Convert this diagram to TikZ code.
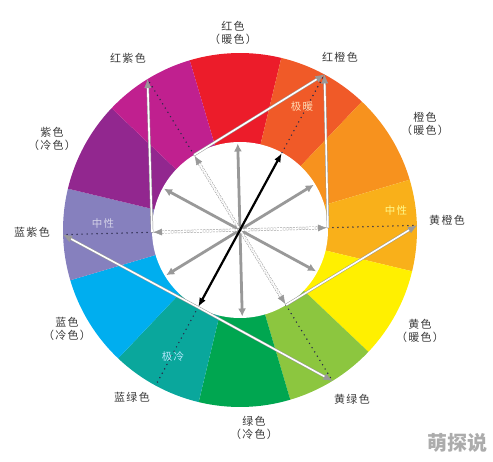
\documentclass[tikz,border=0pt]{standalone}
\usepackage{fontspec}
\newfontfamily\cjk[LetterSpace=12]{Noto Sans CJK SC}
\newfontfamily\cjkmark{Noto Sans CJK SC}
\usetikzlibrary{arrows.meta}

\definecolor{cR}{HTML}{EC1C2A}
\definecolor{cRO}{HTML}{F05A28}
\definecolor{cO}{HTML}{F7921E}
\definecolor{cYO}{HTML}{F9B01A}
\definecolor{cY}{HTML}{FFF000}
\definecolor{cYG}{HTML}{8CC63F}
\definecolor{cG}{HTML}{00A650}
\definecolor{cBG}{HTML}{0AA79C}
\definecolor{cB}{HTML}{00AEEF}
\definecolor{cBV}{HTML}{8680BE}
\definecolor{cV}{HTML}{92278F}
\definecolor{cRV}{HTML}{C0208F}
\definecolor{labelgray}{HTML}{3A3A3A}
\definecolor{dotblue}{HTML}{2A2A4A}

\tikzset{
  ringlabel/.style={font=\cjk\fontsize{11}{12.5}\selectfont, text=labelgray, align=center, inner sep=0pt},
  inlabel/.style={font=\cjk\fontsize{10.5}{12}\selectfont, inner sep=0pt},
  spoke/.style={gray!80, line width=2.8pt, shorten <=1.5pt, shorten >=1.5pt,
    {Latex[length=8pt,width=8pt]}-{Latex[length=8pt,width=8pt]}},
  ghost/.style={draw=gray!80, double=white, double distance=2pt, line width=0.5pt,
    dash pattern=on 2pt off 1.2pt, shorten <=1pt, shorten >=1pt,
    {Latex[length=9pt,width=7pt]}-{Latex[length=9pt,width=7pt]}},
  tangent/.style={draw=gray!80, double=white, double distance=1.6pt, line width=0.5pt,
    -{Latex[length=9pt,width=7pt]}},
  radial/.style={dotblue, line width=1.6pt, line cap=round, dash pattern=on 0pt off 5pt}
}

\begin{document}
\begin{tikzpicture}[x=1pt, y=1pt]
\useasboundingbox (-240,-232) rectangle (253,230);
\def\rot{1.5}

% colour ring
\foreach \a/\c in {90/cR, 60/cRO, 30/cO, 0/cYO, -30/cY, -60/cYG, -90/cG, -120/cBG, -150/cB, 180/cBV, 150/cV, 120/cRV}
  \fill[\c] (0,0) -- (\a-15+\rot:177) arc (\a-15+\rot:\a+15+\rot:177) -- cycle;
\fill[white] (0,0) circle (88);

% points on the inner and outer circle
\foreach \a in {0,30,...,330} {
  \coordinate (in\a) at (\a+\rot:88);
  \coordinate (out\a) at (\a+\rot:177);
}

% dotted radii
\foreach \a in {0,60,...,300}
  \draw[radial] (in\a) -- (out\a);

% arrows inside
\draw[spoke] (in90) -- (in270);
\draw[spoke] (in30) -- (in210);
\draw[spoke] (in150) -- (in330);
\draw[ghost] (in120) -- (in300);
\draw[ghost] (in180) -- (in0);
\draw[black, line width=2.2pt, shorten <=0.5pt, shorten >=0.5pt,
  {Latex[length=9pt,width=7pt]}-{Latex[length=9pt,width=7pt]}] (in240) -- (in60);

% tangent arrows in the ring
\draw[tangent] (in180) -- (out120);
\draw[tangent] (in120) -- (out60);
\draw[tangent] (in0) -- (out60);
\draw[tangent] (in300) -- (out0);
\draw[tangent] (in240) -- (out180);
\draw[tangent] (in240) -- (out300);

% labels in the ring
\node[inlabel, text=orange!30] (hot) at (62,123) {极暖};
\node[inlabel, text=cBV!35] (neutralL) at (-137,6) {中性};
\node[inlabel, text=yellow!45] (neutralR) at (156,19) {中性};
\node[inlabel, text=cyan!30] (cold) at (-67,-127) {极冷};

% labels round the ring
\node[ringlabel] (red) at (-7,197) {红色\\（暖色）};
\node[ringlabel] (redorange) at (100,173) {红橙色};
\node[ringlabel] (orange) at (185,106) {橙色\\（暖色）};
\node[ringlabel] (yelloworange) at (207,10) {黄橙色};
\node[ringlabel] (yellow) at (180,-101) {黄色\\（暖色）};
\node[ringlabel] (yellowgreen) at (112,-169) {黄绿色};
\node[ringlabel] (green) at (14,-198) {绿色\\（冷色）};
\node[ringlabel] (bluegreen) at (-108,-167) {蓝绿色};
\node[ringlabel] (blue) at (-173,-99) {蓝色\\（冷色）};
\node[ringlabel] (bluepurple) at (-208,-2) {蓝紫色};
\node[ringlabel] (purple) at (-188,91) {紫色\\（冷色）};
\node[ringlabel] (redpurple) at (-112,172) {红紫色};

\node[font=\cjkmark\bfseries\fontsize{20}{21}\selectfont, text=gray!65, inner sep=0pt] (mark) at (217,-213) {萌探说};
\end{tikzpicture}
\end{document}
